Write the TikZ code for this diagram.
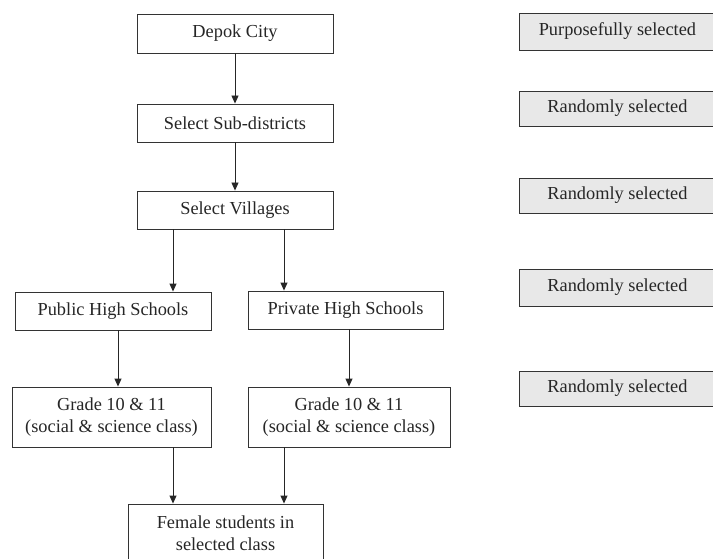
\documentclass[tikz,border=0pt]{standalone}
\usepackage{fontspec}
\setmainfont{Liberation Serif}
\usetikzlibrary{arrows.meta}
\begin{document}
\begin{tikzpicture}[x=1bp,y=-1bp,
  every node/.style={font=\fontsize{18.4}{22}\selectfont, text=black!85},
  box/.style={draw=black!80, line width=0.9bp, rectangle, inner sep=0pt, align=center, fill=white},
  gbox/.style={box, fill=black!9, minimum width=196bp, anchor=west},
  arr/.style={draw=black!85, line width=0.9bp, -{Triangle[length=8bp,width=7bp]}}
]
\useasboundingbox (0,0) rectangle (713,559);
% main flow
\node[box, minimum width=196bp, minimum height=39bp] (depok) at (235,33.5) {Depok City};
\node[box, minimum width=196bp, minimum height=38bp] (sub) at (235,123) {Select Sub-districts};
\node[box, minimum width=196bp, minimum height=38bp] (vil) at (235,210) {Select Villages};
\node[box, minimum width=196bp, minimum height=38bp] (pub) at (113,311) {Public High Schools};
\node[box, minimum width=195bp, minimum height=38bp] (priv) at (345.5,310) {Private High Schools};
\node[box, minimum width=199bp, minimum height=60bp] (gl) at (111.5,417) {Grade 10 \& 11\\(social \& science class)};
\node[box, minimum width=202bp, minimum height=60bp] (gr) at (349,417) {Grade 10 \& 11\\(social \& science class)};
\node[box, minimum width=195bp, minimum height=58bp] (fem) at (225.5,533) {Female students in\\selected class};
% side labels
\node[gbox, minimum height=37bp] (s1) at (519,31.5) {Purposefully selected};
\node[gbox, minimum height=35bp] (s2) at (519,108.5) {Randomly selected};
\node[gbox, minimum height=35bp] (s3) at (519,195.5) {Randomly selected};
\node[gbox, minimum height=37bp] (s4) at (519,287.5) {Randomly selected};
\node[gbox, minimum height=35bp] (s5) at (519,388.5) {Randomly selected};
% x positions of connectors
\coordinate (xA) at (173,0);
\coordinate (xB) at (284,0);
\coordinate (xC) at (118,0);
\coordinate (xD) at (349,0);
% connectors
\draw[arr] (depok.south) -- (sub.north);
\draw[arr] (sub.south) -- (vil.north);
\draw[arr] (vil.south -| xA) -- (pub.north -| xA);
\draw[arr] (vil.south -| xB) -- (priv.north -| xB);
\draw[arr] (pub.south -| xC) -- (gl.north -| xC);
\draw[arr] (priv.south -| xD) -- (gr.north -| xD);
\draw[arr] (gl.south -| xA) -- (fem.north -| xA);
\draw[arr] (gr.south -| xB) -- (fem.north -| xB);
\end{tikzpicture}
\end{document}
